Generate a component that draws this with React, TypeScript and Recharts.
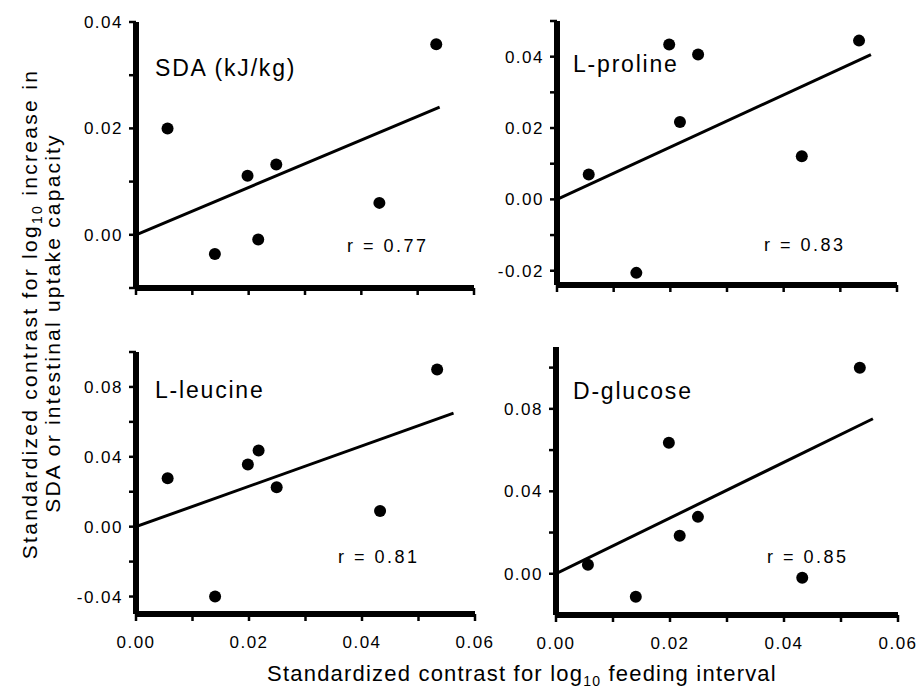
import React from "react";
import { ScatterChart, Scatter, XAxis, YAxis, ReferenceLine } from "recharts";

const FONT = '"Liberation Sans", Arial, Helvetica, sans-serif';

// feeding-interval contrasts (same species in every panel)
const feedX = [0.0056, 0.0140, 0.0198, 0.0217, 0.0249, 0.0432, 0.0533];

const sdaY = [0.0200, -0.0036, 0.0111, -0.0009, 0.0132, 0.0060, 0.0358];
const prolineY = [0.0070, -0.0206, 0.0434, 0.0217, 0.0406, 0.0121, 0.0445];
const leucineY = [0.0277, -0.0400, 0.0356, 0.0436, 0.0226, 0.0090, 0.0900];
const glucoseY = [0.0044, -0.0112, 0.0635, 0.0184, 0.0276, -0.0019, 0.0999];

// regression lines through the origin: [start, end]
const sdaFitX = [0, 0.0539];
const sdaFitY = [0, 0.0240];
const prolineFitX = [0, 0.0554];
const prolineFitY = [0, 0.0406];
const leucineFitX = [0, 0.0562];
const leucineFitY = [0, 0.0650];
const glucoseFitX = [0, 0.0556];
const glucoseFitY = [0, 0.0752];

const xTicks = [0, 0.01, 0.02, 0.03, 0.04, 0.05, 0.06];
const xLabels = [0, 0.02, 0.04, 0.06];

const sdaTicks = [-0.01, 0, 0.01, 0.02, 0.03, 0.04];
const sdaLabels = [0, 0.02, 0.04];
const prolineTicks = [-0.02, -0.01, 0, 0.01, 0.02, 0.03, 0.04, 0.05];
const prolineLabels = [-0.02, 0, 0.02, 0.04];
const leucineTicks = [-0.04, -0.02, 0, 0.02, 0.04, 0.06, 0.08, 0.1];
const leucineLabels = [-0.04, 0, 0.04, 0.08];
const glucoseTicks = [0, 0.02, 0.04, 0.06, 0.08, 0.1];
const glucoseLabels = [0, 0.04, 0.08];

const zip = (xs: number[], ys: number[]) => xs.map((x, i) => ({ x, y: ys[i] }));

const isLabel = (labels: number[], v: number) => labels.some((l) => Math.abs(l - v) < 1e-9);

const Dot = (p: any) => <circle cx={p.cx} cy={p.cy} r={6} fill="#000" />;
const NoDot = () => <g />;

const TICK = 7;
const Y_GAP = 6;
const X_GAP = 14;
const AXIS_W = 6; // half of it is clipped at the plot edge
const tickText = { fill: "#000", fontSize: 17, fontFamily: FONT, letterSpacing: 1.5 };

// y tick: short mark left of the axis plus a label on the major values
const makeYTick = (labels: number[]) => (t: any) => {
  const v = t.payload.value;
  return (
    <g>
      <line x1={t.x + Y_GAP} x2={t.x + Y_GAP + TICK} y1={t.y} y2={t.y} stroke="#000" strokeWidth={2.5} />
      {isLabel(labels, v) && (
        <text x={t.x} y={t.y} dy={6} textAnchor="end" {...tickText}>
          {v.toFixed(2)}
        </text>
      )}
    </g>
  );
};

const makeXTick = (show: boolean) => (t: any) => {
  const v = t.payload.value;
  const top = t.y - X_GAP - TICK;
  return (
    <g>
      <line x1={t.x} x2={t.x} y1={top} y2={top + TICK} stroke="#000" strokeWidth={2.5} />
      {show && isLabel(xLabels, v) && (
        <text x={t.x} y={t.y} dy={13} textAnchor="middle" {...tickText}>
          {v.toFixed(2)}
        </text>
      )}
    </g>
  );
};

type PanelProps = {
  left: number;
  top: number;
  width: number;
  height: number;
  margin: { top: number; right: number; bottom: number; left: number };
  yWidth: number;
  xHeight: number;
  yDomain: [number, number];
  yTicks: number[];
  yLabels: number[];
  showXLabels: boolean;
  points: { x: number; y: number }[];
  fit: { x: number; y: number }[];
};

function Panel(p: PanelProps) {
  return (
    <div style={{ position: "absolute", left: p.left, top: p.top }}>
      <ScatterChart
        width={p.width}
        height={p.height}
        margin={p.margin}
        style={{ overflow: "visible" }}
      >
        <XAxis
          type="number"
          dataKey="x"
          domain={[0, 0.06]}
          ticks={xTicks}
          allowDataOverflow
          height={p.xHeight}
          axisLine={false}
          tickLine={false}
          tickSize={TICK}
          tickMargin={X_GAP}
          tick={makeXTick(p.showXLabels)}
        />
        <YAxis
          type="number"
          dataKey="y"
          domain={p.yDomain}
          ticks={p.yTicks}
          allowDataOverflow
          width={p.yWidth}
          axisLine={false}
          tickLine={false}
          tickSize={TICK}
          tickMargin={Y_GAP}
          tick={makeYTick(p.yLabels)}
        />
        <ReferenceLine x={0} stroke="#000" strokeWidth={AXIS_W} ifOverflow="visible" />
        <ReferenceLine y={p.yDomain[0]} stroke="#000" strokeWidth={AXIS_W} ifOverflow="visible" />
        <Scatter
          data={p.fit}
          line={{ stroke: "#000", strokeWidth: 3 }}
          shape={NoDot}
          isAnimationActive={false}
        />
        <Scatter data={p.points} shape={Dot} isAnimationActive={false} />
      </ScatterChart>
    </div>
  );
}

const txt = { fontFamily: FONT, fill: "#000" };

export default function App() {
  return (
    <div
      style={{
        position: "absolute",
        left: 0,
        top: 0,
        width: 920,
        height: 688,
        background: "#fff",
        overflow: "hidden",
      }}
    >
      <Panel
        left={0}
        top={0}
        width={500}
        height={320}
        margin={{ top: 22, right: 26, bottom: 0, left: 0 }}
        yWidth={136}
        xHeight={32}
        yDomain={[-0.01, 0.04]}
        yTicks={sdaTicks}
        yLabels={sdaLabels}
        showXLabels={false}
        points={zip(feedX, sdaY)}
        fit={zip(sdaFitX, sdaFitY)}
      />
      <Panel
        left={480}
        top={0}
        width={440}
        height={320}
        margin={{ top: 21, right: 23, bottom: 0, left: 0 }}
        yWidth={77}
        xHeight={35}
        yDomain={[-0.024, 0.05]}
        yTicks={prolineTicks}
        yLabels={prolineLabels}
        showXLabels={false}
        points={zip(feedX, prolineY)}
        fit={zip(prolineFitX, prolineFitY)}
      />
      <Panel
        left={0}
        top={320}
        width={500}
        height={368}
        margin={{ top: 32, right: 25, bottom: 0, left: 0 }}
        yWidth={136}
        xHeight={74}
        yDomain={[-0.05, 0.1]}
        yTicks={leucineTicks}
        yLabels={leucineLabels}
        showXLabels={true}
        points={zip(feedX, leucineY)}
        fit={zip(leucineFitX, leucineFitY)}
      />
      <Panel
        left={480}
        top={320}
        width={440}
        height={368}
        margin={{ top: 27, right: 22, bottom: 0, left: 0 }}
        yWidth={76}
        xHeight={73}
        yDomain={[-0.02, 0.11]}
        yTicks={glucoseTicks}
        yLabels={glucoseLabels}
        showXLabels={true}
        points={zip(feedX, glucoseY)}
        fit={zip(glucoseFitX, glucoseFitY)}
      />
      <svg
        width={920}
        height={688}
        style={{ position: "absolute", left: 0, top: 0, pointerEvents: "none" }}
      >
        {/* panel names */}
        <text x={155} y={76} fontSize={23} letterSpacing={1.8} {...txt}>SDA (kJ/kg)</text>
        <text x={573} y={72} fontSize={23} letterSpacing={1.8} {...txt}>L-proline</text>
        <text x={155} y={398} fontSize={23} letterSpacing={1.8} {...txt}>L-leucine</text>
        <text x={573} y={399} fontSize={23} letterSpacing={1.8} {...txt}>D-glucose</text>
        {/* correlation coefficients */}
        <text x={347} y={252} fontSize={18} letterSpacing={2.5} {...txt}>r = 0.77</text>
        <text x={764} y={251} fontSize={18} letterSpacing={2.5} {...txt}>r = 0.83</text>
        <text x={338} y={563} fontSize={18} letterSpacing={2.5} {...txt}>r = 0.81</text>
        <text x={767} y={563} fontSize={18} letterSpacing={2.5} {...txt}>r = 0.85</text>
        {/* y axis title */}
        <text
          transform="translate(37,314) rotate(-90)"
          textAnchor="middle"
          fontSize={21}
          letterSpacing={2.3}
          {...txt}
        >
          Standardized contrast for log
          <tspan fontSize={14} dy={5}>10</tspan>
          <tspan dy={-5}> increase in</tspan>
        </text>
        <text
          transform="translate(60,323) rotate(-90)"
          textAnchor="middle"
          fontSize={21}
          letterSpacing={2.2}
          {...txt}
        >
          SDA or intestinal uptake capacity
        </text>
        {/* x axis title */}
        <text x={522} y={681} textAnchor="middle" fontSize={22} letterSpacing={1.2} {...txt}>
          Standardized contrast for log
          <tspan fontSize={14} dy={5}>10</tspan>
          <tspan dy={-5}> feeding interval</tspan>
        </text>
      </svg>
    </div>
  );
}
